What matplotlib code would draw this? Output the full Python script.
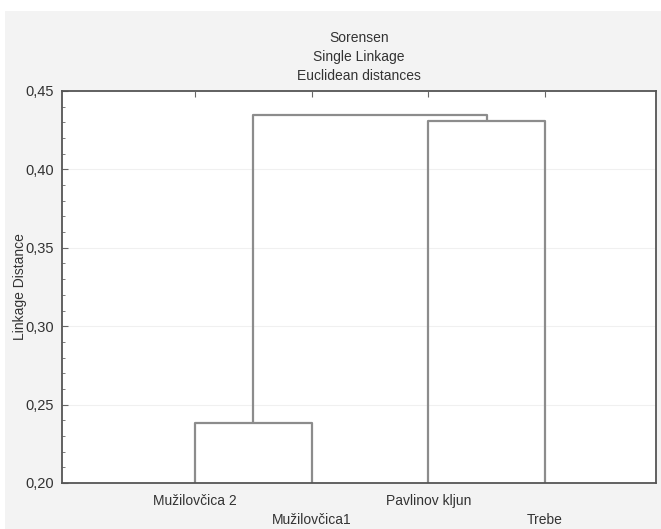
import matplotlib.pyplot as plt
from matplotlib.patches import Rectangle
from matplotlib.ticker import MultipleLocator, FuncFormatter

# Dendrogram data (Sorensen, single linkage)
leaves = ["Mužilovčica 2", "Mužilovčica1", "Pavlinov kljun", "Trebe"]
leaf_pos = [1, 2, 3, 4]
# merge heights: (Mužilovčica 2 + Mužilovčica1), (Pavlinov kljun + Trebe), root
merge_h = [0.238, 0.431, 0.435]
title_lines = ["Sorensen", "Single Linkage", "Euclidean distances"]

plt.rcParams['font.family'] = ['Liberation Sans', 'DejaVu Sans']
base = 0.20

fig = plt.figure(figsize=(6.61, 5.29), dpi=100, facecolor='white')
fig.patches.append(Rectangle((5 / 661, 0), 1, 1 - 11 / 529, transform=fig.transFigure,
                             facecolor='#f3f3f3', edgecolor='none', zorder=-1))
ax = fig.add_axes([62 / 661, 1 - 483 / 529, 594 / 661, 392 / 529])
ax.set_facecolor('white')

line_kw = dict(color='#8c8c8c', lw=1.6, solid_capstyle='butt')

# cluster 1: leaves 0,1
x0, x1 = leaf_pos[0], leaf_pos[1]
ax.plot([x0, x0, x1, x1], [base, merge_h[0], merge_h[0], base], **line_kw)
m1 = (x0 + x1) / 2
# cluster 2: leaves 2,3
x2, x3 = leaf_pos[2], leaf_pos[3]
ax.plot([x2, x2, x3, x3], [base, merge_h[1], merge_h[1], base], **line_kw)
m2 = (x2 + x3) / 2
# root
ax.plot([m1, m1, m2, m2], [merge_h[0], merge_h[2], merge_h[2], merge_h[1]], **line_kw)

ax.set_xlim(-0.14, 4.95)
ax.set_ylim(0.20, 0.45)
ax.yaxis.set_major_locator(MultipleLocator(0.05))
ax.yaxis.set_minor_locator(MultipleLocator(0.01))
ax.yaxis.set_major_formatter(FuncFormatter(lambda v, p: f"{v:.2f}".replace('.', ',')))
ax.grid(axis='y', color='#f0f0f0', lw=0.8)
ax.set_axisbelow(True)

ax.set_xticks(leaf_pos)
ax.set_xticklabels([l if i % 2 == 0 else "\n" + l for i, l in enumerate(leaves)],
                   linespacing=1.4)
ax.tick_params(axis='x', bottom=False, top=True, direction='in', length=4,
               color='#666666', labelsize=10, labelcolor='#333333', pad=8)
ax.tick_params(axis='y', which='major', direction='in', length=4, color='#666666',
               labelsize=10.5, labelcolor='#333333', pad=6)
ax.tick_params(axis='y', which='minor', direction='in', length=2, color='#666666')

for s in ax.spines.values():
    s.set_color('#555555')
    s.set_linewidth(1.3)

ax.set_ylabel("Linkage Distance", fontsize=10, color='#333333')
ax.yaxis.set_label_coords(-(62 - 27) / 594, 0.5)

for i, t in enumerate(title_lines):
    fig.text(0.5 * (62 + 656) / 661, 1 - (38 + 19 * i) / 529, t, ha='center', va='center',
             fontsize=10, color='#333333')

fig.savefig('out.png', dpi=100, facecolor=fig.get_facecolor())
